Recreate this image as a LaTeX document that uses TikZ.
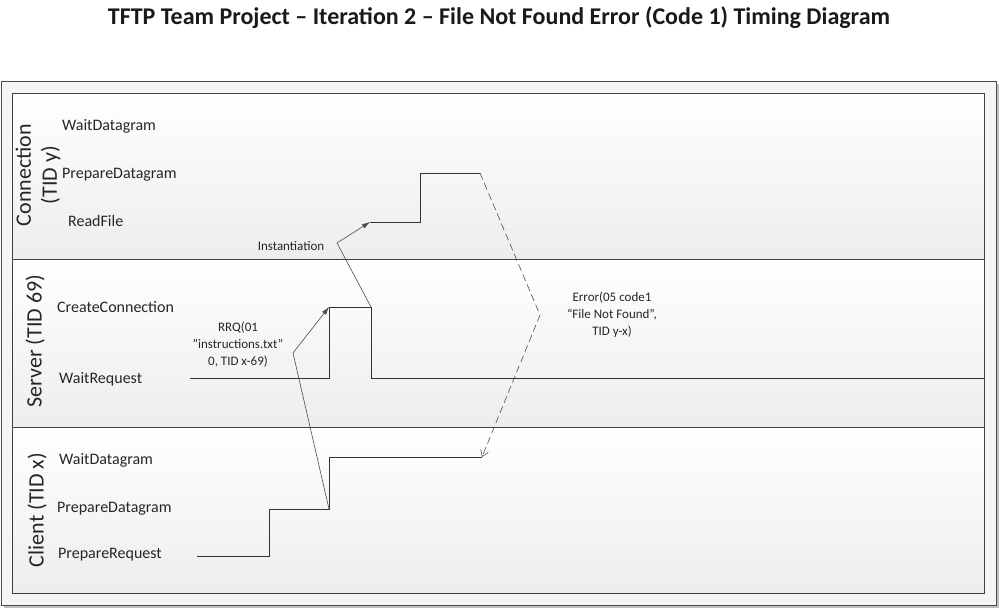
\documentclass[tikz,border=0pt]{standalone}
\usepackage{fontspec}
\setmainfont{Carlito}[Ligatures={ResetAll}]
\usetikzlibrary{arrows.meta}

\tikzset{
  lane/.style={draw=black!75, line width=0.8pt, top color=white, bottom color=black!7},
  state/.style={anchor=west, inner sep=0pt, text=black!85, font=\fontsize{16}{19}\selectfont},
  msg/.style={align=center, inner sep=0pt, text=black!85, font=\fontsize{13}{17}\selectfont},
  who/.style={rotate=90, align=center, inner sep=0pt, text=black!85, font=\fontsize{22}{26}\selectfont},
  wave/.style={draw=black!80, line width=0.9pt},
  call/.style={draw=black!70, line width=0.6pt, -{Latex[length=8pt,width=5pt]}},
  reply/.style={draw=black!70, line width=0.6pt, dash pattern=on 7pt off 4pt, -{Straight Barb[length=6pt,width=8pt]}}
}

\begin{document}
\begin{tikzpicture}[x=1pt, y=-1pt]
\useasboundingbox (0,0) rectangle (999,608);

\node[font=\bfseries\fontsize{24}{28}\selectfont, text=black!90] (title) at (499,18) {TFTP Team Project – Iteration 2 – File Not Found Error (Code 1) Timing Diagram};

% frame and lanes
\fill[black!25] (4,84) rectangle (999,608);
\draw[black!70, fill=black!4] (1,81) rectangle (996,605);
\path[lane] (12,93) rectangle (984,259);
\path[lane] (12,259) rectangle (984,427);
\path[lane] (12,427) rectangle (984,593);

% lane names
\node[who] (conn) at (38,175) {Connection\\(TID y)};
\node[who] (server) at (35,341) {Server (TID 69)};
\node[who] (client) at (37,510) {Client (TID x)};

% states
\node[state] (cwait) at (62,126) {WaitDatagram};
\node[state] (cprep) at (62,175) {PrepareDatagram};
\node[state] (cread) at (68,221) {ReadFile};
\node[state] (screate) at (57,307) {CreateConnection};
\node[state] (swait) at (59,379) {WaitRequest};
\node[state] (kwait) at (59,460) {WaitDatagram};
\node[state] (kprep) at (57,509) {PrepareDatagram};
\node[state] (kreq) at (58,555) {PrepareRequest};

% messages
\node[msg] (inst) at (291,246) {Instantiation};
\node[msg] (rrq) at (238,345) {RRQ(01\\"instructions.txt"\\0, TID x-69)};
\node[msg] (err) at (612,315) {Error(05 code1\\“File Not Found”,\\TID y-x)};

% client
\coordinate (c0) at (197,556);
\coordinate (c1) at (269,556);
\coordinate (c2) at (269,509);
\coordinate (c3) at (329,509);
\coordinate (c4) at (329,457);
\coordinate (c5) at (482,457);
% server
\coordinate (s0) at (190,378);
\coordinate (s1) at (329,378);
\coordinate (s2) at (329,307);
\coordinate (s3) at (371,307);
\coordinate (s4) at (371,378);
\coordinate (s5) at (984,378);
% connection
\coordinate (n0) at (370,222);
\coordinate (n1) at (420,222);
\coordinate (n2) at (420,173);
\coordinate (n3) at (480,173);
% bends
\coordinate (rrqbend) at (293,353);
\coordinate (instbend) at (337,243);
\coordinate (errbend) at (540,315);

\draw[wave] (c0) -- (c1) -- (c2) -- (c3) -- (c4) -- (c5);
\draw[wave] (s0) -- (s1) -- (s2) -- (s3) -- (s4) -- (s5);
\draw[wave] (n0) -- (n1) -- (n2) -- (n3);

\draw[call] (c3) -- (rrqbend) -- (s2);
\draw[call] (s3) -- (instbend) -- (n0);
\draw[reply] (n3) -- (errbend) -- (c5);

\end{tikzpicture}
\end{document}
